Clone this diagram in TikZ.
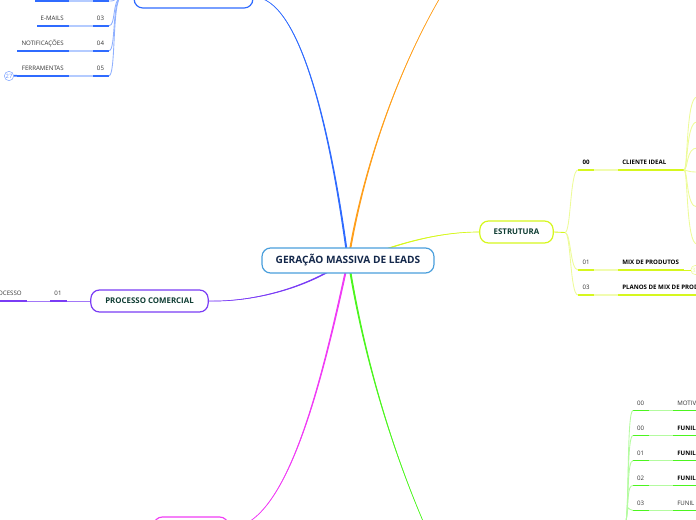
\documentclass[tikz,border=0pt]{standalone}
\usepackage{fontspec}
\usetikzlibrary{calc}
\setmainfont{Open Sans}
\definecolor{cblue}{HTML}{2F6BFF}
\definecolor{cbluel}{HTML}{B4CBFF}
\definecolor{cbluef}{HTML}{8FB0FF}
\definecolor{corange}{HTML}{FF9F1C}
\definecolor{clime}{HTML}{D6F71E}
\definecolor{climel}{HTML}{F1FCB0}
\definecolor{climef}{HTML}{EDFB98}
\definecolor{cpurple}{HTML}{7A3CF5}
\definecolor{cmag}{HTML}{F03CF5}
\definecolor{cgreen}{HTML}{4CF51E}
\definecolor{cgreenl}{HTML}{B4FBA0}
\definecolor{ccentral}{HTML}{4A9FDC}
\definecolor{cnavy}{HTML}{14284B}
\definecolor{cdkgreen}{HTML}{0F3D33}
\definecolor{ctxt}{HTML}{333333}
\newcommand{\taperlink}[6]{%
 \draw[#1,line width=0.5pt] (#2) .. controls (#3) and (#4) .. (#5);
 \fill[#1] ($(#2)+(#6)$) .. controls ($(#3)+0.8*(#6)$) and ($(#4)+0.4*(#6)$) .. (#5)
   .. controls ($(#4)-0.4*(#6)$) and ($(#3)-0.8*(#6)$) .. ($(#2)-(#6)$) -- cycle;
}
\tikzset{
 x=0.75pt,y=-0.75pt,
 mainbox/.style={draw=ccentral,line width=0.9pt,fill=white,rounded corners=6.5pt,inner sep=0pt,minimum width=129pt,minimum height=18.8pt,text=cnavy,font=\fontsize{7.6}{9}\selectfont\bfseries},
 topicbox/.style={line width=0.9pt,fill=white,rounded corners=6.5pt,inner sep=0pt,minimum height=16.5pt,text=cdkgreen,font=\fontsize{5.9}{7}\selectfont\bfseries},
 tiny/.style={inner sep=0pt,text=ctxt,font=\fontsize{4.6}{6}\selectfont},
 tinyb/.style={inner sep=0pt,text=black,font=\fontsize{4.6}{6}\selectfont\bfseries},
 bar/.style={line width=1.25pt},
 fan/.style={line width=0.65pt},
 badge/.style={circle,draw,line width=0.45pt,fill=white,minimum size=7pt,inner sep=0pt,font=\fontsize{4.4}{5}\selectfont},
}
\begin{document}
\begin{tikzpicture}
\useasboundingbox (0,0) rectangle (696,520);
\clip (0,0) rectangle (696,520);
% free ends
\coordinate (oEnd) at (441,-4);
\coordinate (gEnd) at (426,528);
\coordinate (cB) at (346.5,250);
\coordinate (cO) at (350,250);
\coordinate (cL) at (372,254);
\coordinate (cP) at (338,266);
\coordinate (cM) at (346,270);
\coordinate (cG) at (350,270);
% topics
\node[topicbox,draw=cblue,minimum width=89pt] (blueT) at (193.5,-3) {};
\node[topicbox,draw=clime,minimum width=55pt] (estr) at (516.5,232) {\raisebox{-0.6pt}{ESTRUTURA}};
\node[topicbox,draw=cpurple,minimum width=88pt] (proc) at (149.5,301) {\raisebox{-0.6pt}{PROCESSO COMERCIAL}};
\node[topicbox,draw=cmag,minimum width=56pt] (mag) at (191,528) {};
% links from the central topic, tapering outwards
\taperlink{cblue}{cB}{330,130}{300,-3}{blueT.east}{1,0}
\taperlink{corange}{cO}{364,170}{395,75}{oEnd}{1,0}
\taperlink{clime}{cL}{410,240}{445,232}{estr.west}{0,0.7}
\taperlink{cpurple}{cP}{300,290}{250,302}{proc.east}{0,0.9}
\taperlink{cmag}{cM}{320,390}{285,528}{mag.east}{1,0}
\taperlink{cgreen}{cG}{365,360}{392,450}{gEnd}{1,0}
\node[mainbox] (main) at (348,260.5) {GERAÇÃO MASSIVA DE LEADS};
% blue branches
\coordinate (bFan) at (121,-3);
\coordinate (b1R) at (109,1);
\coordinate (b1L) at (35,1);
\coordinate (b2R) at (109,25.7);
\coordinate (b2L) at (37,25.7);
\coordinate (b3R) at (109,50.7);
\coordinate (b3L) at (17,50.7);
\coordinate (b4R) at (109,75.7);
\coordinate (b4L) at (17,75.7);
\foreach \c/\yy in {b1/1,b2/25.7,b3/50.7,b4/75.7}{
 \draw[bar,cbluel] (\c R) -- (\c L);
 \draw[bar,cblue] (\c L) -- (69,\yy);
 \draw[bar,cblue] (93,\yy) -- (\c R);
 \draw[fan,cbluef] (\c R) .. controls (116,\yy) and (112,0) .. (bFan);
}
\node[tiny] (t3n) at (100.5,18.7) {03};
\node[tiny,anchor=east] (t3) at (64,18.7) {E-MAILS};
\node[tiny] (t4n) at (100.5,43.7) {04};
\node[tiny,anchor=east] (t4) at (64,43.7) {NOTIFICAÇÕES};
\node[tiny] (t5n) at (100.5,68.7) {05};
\node[tiny,anchor=east] (t5) at (64,68.7) {FERRAMENTAS};
\node[badge,draw=cbluef,text=cblue!75] (b27) at (9,76) {27};
\draw[bar,cblue] (b27) -- (b4L);
\draw[fan,cbluef] (bFan) -- (blueT.west);
% estrutura
\coordinate (eFan) at (565,232.5);
\coordinate (e0L) at (578,170);
\coordinate (e0R) at (684,170);
\coordinate (e1L) at (578,270);
\coordinate (e1R) at (684,270);
\coordinate (e2L) at (578,295);
\coordinate (e2R) at (696,295);
\draw[fan,clime] (estr.east) -- (eFan);
\foreach \c/\yy in {e0/170,e1/270,e2/295}{
 \draw[bar,climel] (\c L) -- (\c R);
 \draw[bar,clime] (\c L) -- (594,\yy);
 \draw[bar,clime] (618,\yy) -- (\c R);
 \draw[fan,climef] (\c L) .. controls (570,\yy) and (571,232.5) .. (eFan);
}
\node[tinyb] (n0) at (586,162.7) {00};
\node[tinyb,anchor=west] (l0) at (622,162.7) {CLIENTE IDEAL};
\node[tiny] (n1) at (586,262.7) {01};
\node[tinyb,anchor=west] (l1) at (622,262.7) {MIX DE PRODUTOS};
\node[tiny] (n2) at (586,287.7) {03};
\node[tinyb,anchor=west] (l2) at (622,287.7) {PLANOS DE MIX DE PRODUTOS};
\foreach \yy in {97,122,148,172,207,244}{
 \coordinate (eEnd) at (697,\yy);
 \draw[fan,climef] (e0R) .. controls (688,170) and (686,\yy) .. (eEnd);
}
\node[badge,draw=climef,text=climef] (b33) at (695.5,270) {33};
\draw[fan,clime] (e1R) -- (b33);
% funil
\coordinate (gFan) at (626,522);
\foreach \yy/\num/\lab/\st in {410.5/00/MOTIVAÇÃO/tiny,435.5/00/FUNIL/tinyb,460.5/01/FUNIL/tinyb,485.5/02/FUNIL/tinyb,510.5/03/FUNIL/tiny}{
 \coordinate (gL) at (633,\yy);
 \coordinate (gR) at (696,\yy);
 \draw[line width=0.6pt,cgreenl] (gL) -- (gR);
 \draw[bar,cgreen] (gL) -- (649,\yy);
 \draw[bar,cgreen] (673,\yy) -- (gR);
 \draw[fan,cgreenl] (gL) .. controls (627,\yy) and (629,500) .. (gFan);
 \node[tiny] at (640.5,\yy-7.5) {\num};
 \node[\st,anchor=west] at (677,\yy-7.5) {\lab};
}
% processo
\coordinate (pL) at (-5,301);
\coordinate (pA) at (27,301);
\coordinate (pB) at (50,301);
\coordinate (pC) at (67,301);
\draw[fan,cpurple!70] (pL) -- (proc.west);
\draw[bar,cpurple] (pL) -- (pA);
\draw[bar,cpurple] (pB) -- (pC);
\node[tiny] (n5) at (58,293.7) {01};
\node[tiny,anchor=east] (l5) at (22,293.7) {PROCESSO};
\end{tikzpicture}
\end{document}
